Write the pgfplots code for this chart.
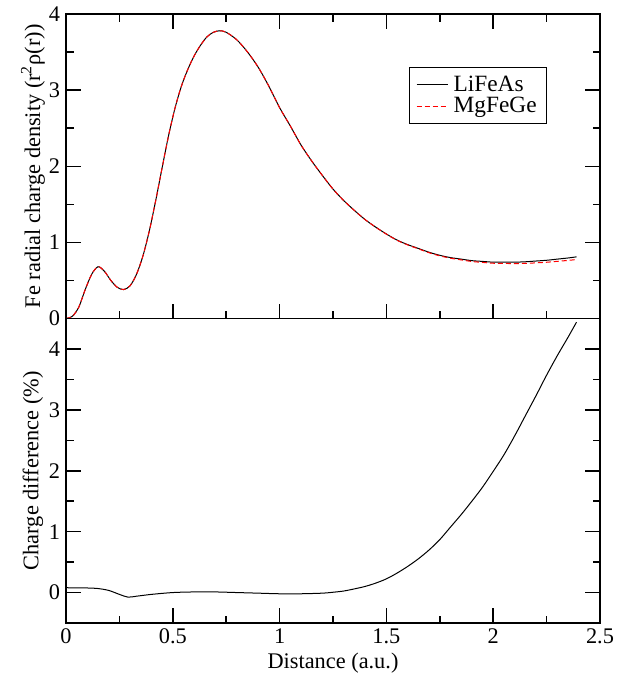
\documentclass[border=0pt]{standalone}
\usepackage{fontspec}
\setmainfont{Liberation Serif}
\usepackage{pgfplots}
\pgfplotsset{compat=1.18}

% radial density, Fe site
\pgfplotstableread{
x y
0.00 0.00
0.03 0.03
0.06 0.15
0.09 0.38
0.12 0.58
0.15 0.68
0.18 0.62
0.21 0.50
0.24 0.41
0.27 0.38
0.30 0.43
0.33 0.58
0.36 0.82
0.39 1.15
0.42 1.55
0.45 1.98
0.48 2.40
0.51 2.76
0.54 3.05
0.57 3.27
0.60 3.45
0.63 3.59
0.66 3.70
0.69 3.76
0.72 3.78
0.75 3.76
0.80 3.66
0.85 3.50
0.90 3.30
0.95 3.05
1.00 2.77
1.05 2.53
1.10 2.28
1.15 2.07
1.20 1.88
1.25 1.70
1.30 1.55
1.35 1.42
1.40 1.30
1.45 1.20
1.50 1.11
1.55 1.03
1.60 0.97
1.65 0.92
1.70 0.87
1.75 0.83
1.80 0.80
1.85 0.78
1.90 0.76
1.95 0.75
2.00 0.74
2.05 0.74
2.10 0.74
2.15 0.745
2.20 0.755
2.25 0.765
2.30 0.78
2.35 0.795
2.39 0.81
}\lifeas

\pgfplotstableread{
x y
0.00 0.00
0.03 0.03
0.06 0.15
0.09 0.38
0.12 0.58
0.15 0.68
0.18 0.62
0.21 0.50
0.24 0.41
0.27 0.38
0.30 0.43
0.33 0.58
0.36 0.82
0.39 1.15
0.42 1.55
0.45 1.98
0.48 2.40
0.51 2.76
0.54 3.05
0.57 3.27
0.60 3.45
0.63 3.59
0.66 3.70
0.69 3.76
0.72 3.78
0.75 3.76
0.80 3.66
0.85 3.50
0.90 3.30
0.95 3.05
1.00 2.77
1.05 2.53
1.10 2.28
1.15 2.07
1.20 1.88
1.25 1.70
1.30 1.55
1.35 1.42
1.40 1.30
1.45 1.20
1.50 1.108
1.55 1.027
1.60 0.966
1.65 0.915
1.70 0.864
1.75 0.823
1.80 0.792
1.85 0.770
1.90 0.749
1.95 0.737
2.00 0.726
2.05 0.724
2.10 0.721
2.15 0.724
2.20 0.731
2.25 0.739
2.30 0.751
2.35 0.763
2.39 0.775
}\mgfege

% charge difference in percent
\pgfplotstableread{
x y
0.00 0.10
0.005 0.08
0.05 0.077
0.10 0.075
0.15 0.066
0.20 0.035
0.25 -0.03
0.29 -0.075
0.33 -0.06
0.40 -0.03
0.50 0.0
0.60 0.01
0.70 0.01
0.80 0.0
0.90 -0.01
1.00 -0.02
1.10 -0.02
1.20 -0.01
1.25 0.005
1.30 0.025
1.35 0.06
1.40 0.10
1.45 0.155
1.50 0.225
1.55 0.32
1.60 0.43
1.65 0.555
1.70 0.70
1.75 0.87
1.80 1.075
1.85 1.28
1.90 1.50
1.95 1.73
2.00 1.99
2.05 2.26
2.10 2.57
2.15 2.90
2.20 3.23
2.25 3.57
2.30 3.89
2.35 4.19
2.39 4.44
}\diff

\begin{document}
\begin{tikzpicture}[font=\fontsize{13.4}{15}\selectfont]
\pgfplotsset{
  every axis/.append style={
    scale only axis,
    width=320.4pt, height=182.7pt,
    xmin=0, xmax=2.5,
    xtick={0,0.5,1,1.5,2,2.5},
    minor x tick num=1, minor y tick num=1,
    tick align=inside,
    major tick length=9pt, minor tick length=4.5pt,
    axis line style={line width=1.1pt},
    every tick/.style={line width=0.9pt, black},
    /pgf/number format/assume math mode=true,
    tick label style={font=\fontsize{13.4}{15}\selectfont},
    every axis y label/.style={at={(axis description cs:-0.062,0.5)}, rotate=90, anchor=center},
  },
}

\begin{axis}[
    name=top,
    ymin=0, ymax=4,
    ytick={0,1,2,3,4},
    xticklabels={},
    ylabel={Fe radial charge density (r\textsuperscript{2}ρ(r))},
    legend style={at={(rel axis cs:0.642,0.826)}, anchor=north west,
      draw=black, line width=0.6pt, row sep=0pt,
      inner xsep=4pt, inner ysep=4pt,
      nodes={inner ysep=1pt},
      font=\fontsize{14}{15}\selectfont},
    legend cell align=left,
    legend image code/.code={\draw[#1] (0pt,0pt) -- (18.6pt,0pt); \path (20pt,0pt);},
]
\addplot[black, line width=0.6pt, smooth] table {\lifeas};
\addplot[red, line width=0.6pt, dash pattern=on 3pt off 1.8pt, smooth] table {\mgfege};
\legend{LiFeAs, MgFeGe}
\end{axis}

\begin{axis}[
    name=bot,
    at={(top.south west)}, anchor=north west,
    ymin=-0.5, ymax=4.5,
    ytick={0,1,2,3,4},
    xtick pos=bottom,
    xlabel={Distance (a.u.)},
    ylabel={Charge difference (\%)},
    xlabel style={at={(axis description cs:0.5,-0.131)}, anchor=center},
]
\addplot[black, line width=0.6pt, smooth] table {\diff};
\end{axis}

\pgfresetboundingbox
\useasboundingbox ([shift={(-39.6pt,-31.2pt)}]bot.south west) rectangle ([shift={(14.4pt,8.4pt)}]top.north east);
\end{tikzpicture}
\end{document}
